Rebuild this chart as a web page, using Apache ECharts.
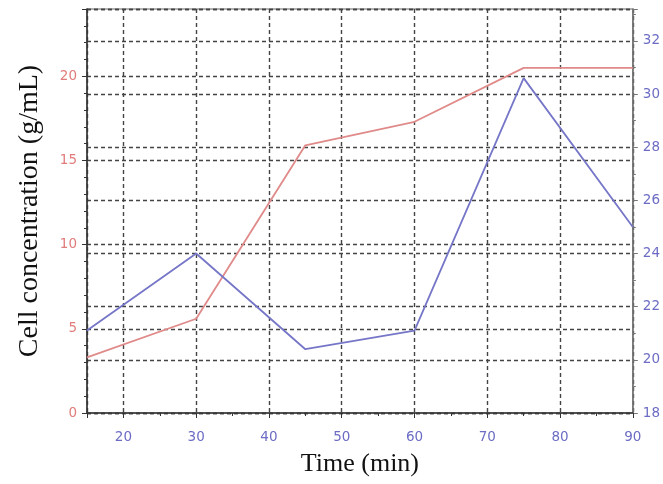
<!DOCTYPE html>
<html>
<head>
<meta charset="utf-8">
<script src="https://cdn.jsdelivr.net/npm/echarts@6/dist/echarts.min.js"></script>
<style>
  html, body { margin: 0; padding: 0; background: #fff; }
  #chart { width: 663px; height: 484px; }
</style>
</head>
<body>
<div id="chart"></div>
<script>
// time points (min)
const times = [15, 30, 45, 60, 75, 90]
// red line, left axis (g/mL)
const cellConc = [3.3, 5.6, 15.9, 17.3, 20.5, 20.5]
// blue line, right axis
const rightValues = [21.1, 24.0, 20.4, 21.1, 30.6, 25.0]

const gridLine = { show: true, lineStyle: { color: '#444', type: [4, 3], width: 1.4 } }

const chart = echarts.init(document.getElementById('chart'))

chart.setOption({
  animation: false,
  grid: {
    left: 87, right: 30, top: 9, bottom: 71,
    show: true, borderColor: '#666', borderWidth: 1.2
  },
  xAxis: {
    type: 'value',
    min: 15,
    max: 90,
    splitNumber: 8,
    name: 'Time (min)',
    nameLocation: 'middle',
    nameGap: 38,
    nameTextStyle: { fontFamily: 'Liberation Serif', fontSize: 26, color: '#111' },
    axisLine: { lineStyle: { color: '#333', width: 1.5 } },
    axisTick: { length: 5, lineStyle: { color: '#333' } },
    minorTick: { show: true, splitNumber: 2, length: 3, lineStyle: { color: '#333' } },
    axisLabel: {
      showMinLabel: false, margin: 17,
      fontFamily: 'DejaVu Sans', fontSize: 13.5, color: '#6c6cc4'
    },
    splitLine: gridLine
  },
  yAxis: [
    {
      type: 'value',
      min: 0,
      max: 24,
      interval: 5,
      name: 'Cell concentration (g/mL)',
      nameLocation: 'middle',
      nameGap: 43,
      nameTextStyle: { fontFamily: 'Liberation Serif', fontSize: 28, color: '#111' },
      axisLine: { show: true, lineStyle: { color: '#333', width: 1.5 } },
      axisTick: { show: true, length: 5, lineStyle: { color: '#333' } },
      minorTick: { show: true, splitNumber: 5, length: 3, lineStyle: { color: '#333' } },
      axisLabel: {
        showMaxLabel: false, margin: 10,
        fontFamily: 'DejaVu Sans', fontSize: 13.5, color: '#e07c7c'
      },
      splitLine: gridLine
    },
    {
      type: 'value',
      position: 'right',
      min: 18,
      max: 33.2,
      interval: 2,
      axisLine: { show: true, lineStyle: { color: '#777', width: 1.5 } },
      axisTick: { show: true, length: 5, lineStyle: { color: '#777' } },
      minorTick: { show: true, splitNumber: 2, length: 3, lineStyle: { color: '#777' } },
      axisLabel: {
        showMaxLabel: false, margin: 10,
        fontFamily: 'DejaVu Sans', fontSize: 13.5, color: '#6c6cc4'
      },
      splitLine: gridLine
    }
  ],
  series: [
    {
      name: 'Cell concentration',
      type: 'line',
      yAxisIndex: 0,
      data: times.map((t, i) => [t, cellConc[i]]),
      showSymbol: false,
      lineStyle: { color: '#e08a8a', width: 1.8 },
      z: 3
    },
    {
      name: 'Right',
      type: 'line',
      yAxisIndex: 1,
      data: times.map((t, i) => [t, rightValues[i]]),
      showSymbol: false,
      lineStyle: { color: '#7676c8', width: 1.8 },
      z: 3
    }
  ]
})
</script>
</body>
</html>
